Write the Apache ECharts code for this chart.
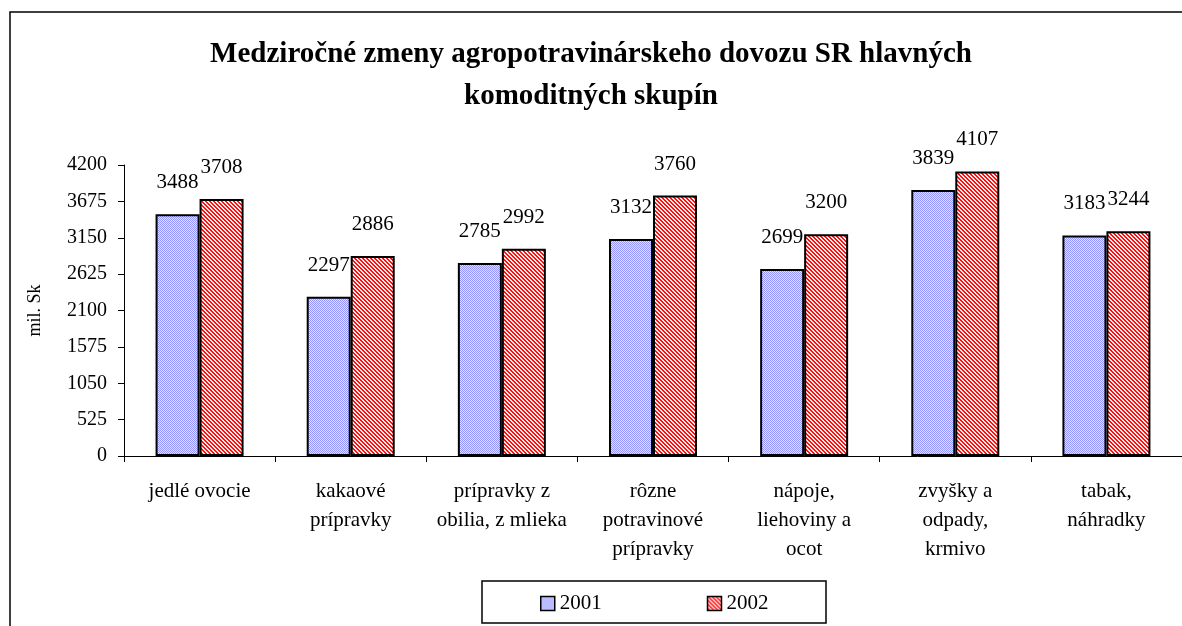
<!DOCTYPE html>
<html>
<head>
<meta charset="utf-8">
<script src="https://cdn.jsdelivr.net/npm/echarts@6/dist/echarts.min.js"></script>
<style>html,body{margin:0;padding:0;background:#fff}#c{width:1182px;height:626px}</style>
</head>
<body>
<div id="c"></div>
<script>
const categories = [
  'jedlé ovocie',
  'kakaové\nprípravky',
  'prípravky z\nobilia, z mlieka',
  'rôzne\npotravinové\nprípravky',
  'nápoje,\nliehoviny a\nocot',
  'zvyšky a\nodpady,\nkrmivo',
  'tabak,\nnáhradky'
];
const seriesNames = ['2001', '2002'];
const values2001 = [3488, 2297, 2785, 3132, 2699, 3839, 3183];
const values2002 = [3708, 2886, 2992, 3760, 3200, 4107, 3244];
const yTicks = { min: 0, max: 4200, interval: 525 };

function blueFill() {
  const c = document.createElement('canvas'); c.width = 2; c.height = 2;
  const g = c.getContext('2d');
  g.fillStyle = '#e2e2ff'; g.fillRect(0, 0, 2, 2);
  g.fillStyle = '#9494ff'; g.fillRect(0, 0, 1, 1); g.fillRect(1, 1, 1, 1);
  return c;
}
function redFill() {
  const c = document.createElement('canvas'); c.width = 4; c.height = 4;
  const g = c.getContext('2d');
  g.fillStyle = '#ffe8e8'; g.fillRect(0, 0, 4, 4);
  g.fillStyle = '#ff1010';
  for (let y = 0; y < 4; y++) {
    g.fillRect((y) % 4, y, 1, 1);
    g.fillRect((y + 1) % 4, y, 1, 1);
  }
  return c;
}
const fills = [{ image: blueFill(), repeat: 'repeat' }, { image: redFill(), repeat: 'repeat' }];
const FONT = '"Liberation Serif", "Times New Roman", serif';

const chart = echarts.init(document.getElementById('c'), null, { renderer: 'canvas' });
chart.setOption({
  backgroundColor: '#ffffff',
  animation: false,
  title: {
    text: 'Medziročné zmeny agropotravinárskeho dovozu SR hlavných\nkomoditných skupín',
    left: 'center',
    top: 29,
    textStyle: { fontFamily: FONT, fontSize: 29, fontWeight: 'bold', color: '#000', lineHeight: 42 }
  },
  graphic: [
    { type: 'rect', shape: { x: 10, y: 12, width: 1200, height: 700 }, style: { fill: 'none', stroke: '#000', lineWidth: 1.5 }, z: -1, silent: true },
    { type: 'rect', shape: { x: 482, y: 581, width: 344, height: 42 }, style: { fill: '#fff', stroke: '#000', lineWidth: 1.5 }, z: 0, silent: true }
  ],
  legend: {
    data: seriesNames,
    left: 535,
    top: 588,
    itemGap: 105,
    itemWidth: 14,
    itemHeight: 14,
    icon: 'rect',
    z: 10,
    textStyle: { fontFamily: FONT, fontSize: 21, color: '#000' },
    itemStyle: { borderColor: '#000', borderWidth: 1.5 }
  },
  grid: { left: 124, right: -4, top: 165, bottom: 170, containLabel: false },
  xAxis: {
    type: 'category',
    data: categories,
    axisLine: { lineStyle: { color: '#000', width: 1 } },
    axisTick: { show: true, inside: false, length: 6, alignWithLabel: false, lineStyle: { color: '#000' } },
    axisLabel: { fontFamily: FONT, fontSize: 21, color: '#000', margin: 21, lineHeight: 29, interval: 0 }
  },
  yAxis: {
    type: 'value',
    min: yTicks.min, max: yTicks.max, interval: yTicks.interval,
    name: 'mil. Sk',
    nameLocation: 'middle',
    nameGap: 80,
    nameRotate: 90,
    nameTextStyle: { fontFamily: FONT, fontSize: 18, color: '#000' },
    axisLine: { show: true, lineStyle: { color: '#000', width: 1 } },
    axisTick: { show: true, inside: false, length: 6, lineStyle: { color: '#000' } },
    splitLine: { show: false },
    axisLabel: { fontFamily: FONT, fontSize: 20, color: '#000', margin: 17, formatter: v => String(v) }
  },
  series: [
    {
      name: seriesNames[0], type: 'bar', data: values2001, barWidth: 44, barGap: '0%',
      itemStyle: { color: fills[0], borderColor: '#000', borderWidth: 2 },
      label: { show: true, position: 'top', distance: 21, fontFamily: FONT, fontSize: 21, color: '#000' }
    },
    {
      name: seriesNames[1], type: 'bar', data: values2002, barWidth: 44, barGap: '0%',
      itemStyle: { color: fills[1], borderColor: '#000', borderWidth: 2 },
      label: { show: true, position: 'top', distance: 21, fontFamily: FONT, fontSize: 21, color: '#000' }
    }
  ]
});
</script>
</body>
</html>
